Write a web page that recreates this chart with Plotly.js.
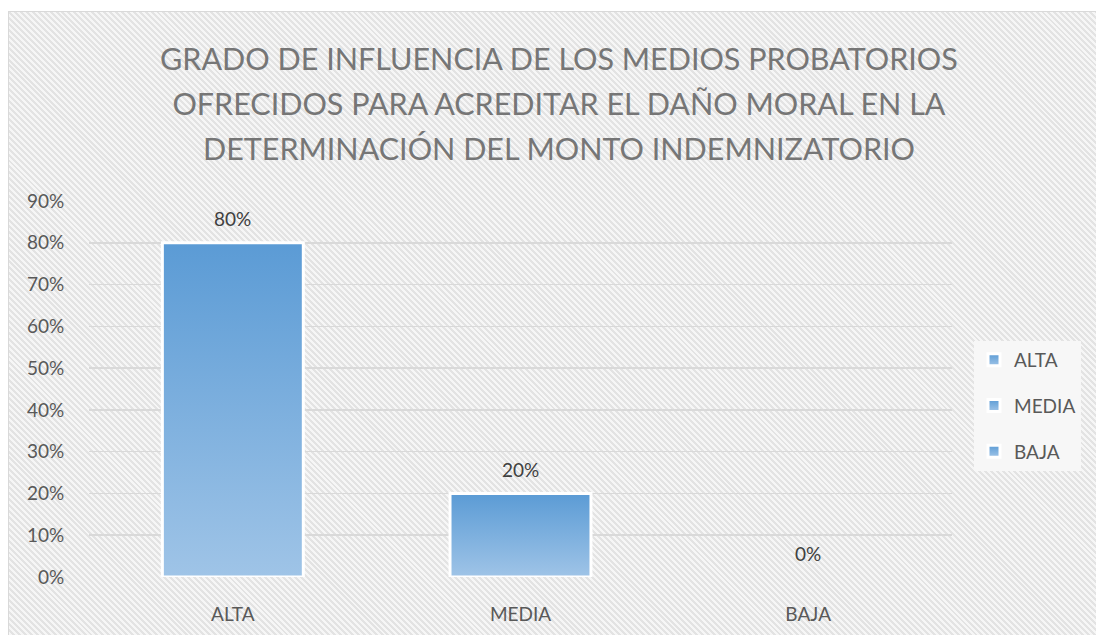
<!DOCTYPE html>
<html>
<head>
<meta charset="utf-8">
<script src="https://cdn.plot.ly/plotly-3.0.1.min.js"></script>
<style>
  html, body { margin: 0; padding: 0; background: #ffffff; width: 1096px; height: 635px; overflow: hidden; }
  #bg {
    position: absolute; left: 8px; top: 11px; width: 1100px; height: 640px;
    border: 1px solid #d9d9d9;
    background: repeating-linear-gradient(45deg, #f6f6f6 0px, #f6f6f6 2.1px, #e3e3e3 2.1px, #e3e3e3 4.2px);
  }
  #chart { position: absolute; left: 0; top: 0; width: 1096px; height: 635px; }
</style>
</head>
<body>
<div id="bg"></div>
<div id="chart"></div>
<script>
const categories = ["ALTA", "MEDIA", "BAJA"];
const values = [0.80, 0.20, 0.00];
const valueLabels = ["80%", "20%", "0%"];
const tickValues = [0, 0.1, 0.2, 0.3, 0.4, 0.5, 0.6, 0.7, 0.8, 0.9];
const tickLabels = ["0%", "10%", "20%", "30%", "40%", "50%", "60%", "70%", "80%", "90%"];
const titleText = "GRADO DE INFLUENCIA DE LOS MEDIOS PROBATORIOS<br>OFRECIDOS PARA ACREDITAR EL DAÑO MORAL EN LA<br>DETERMINACIÓN DEL MONTO INDEMNIZATORIO";

const FONT = "Lato, 'Open Sans', sans-serif";

const traces = categories.map((c, i) => ({
  type: "bar",
  name: c,
  x: [c],
  y: [values[i]],
  width: 0.49,
  legendgroup: c,
  marker: { color: "#7aaee0", line: { color: "#ffffff", width: values[i] > 0 ? 3 : 0 } },
  hoverinfo: "none"
}));

const annotations = categories.map((c, i) => ({
  x: c, y: values[i], xref: "x", yref: "y",
  text: valueLabels[i], showarrow: false,
  yanchor: "middle", yshift: 24,
  font: { family: FONT, size: 19, color: "#404040" }
}));

const layout = {
  width: 1096, height: 635,
  margin: { l: 89, r: 144, t: 201, b: 58, pad: 0 },
  paper_bgcolor: "rgba(0,0,0,0)",
  plot_bgcolor: "rgba(0,0,0,0)",
  barmode: "overlay",
  title: {
    text: titleText,
    x: 0.51, xref: "container", xanchor: "center",
    y: 0.889, yref: "container", yanchor: "top",
    font: { family: FONT, size: 30.5, color: "#767676" }
  },
  xaxis: {
    type: "category",
    showgrid: false, zeroline: false, showline: false,
    ticks: "outside", ticklen: 20, tickcolor: "rgba(0,0,0,0)",
    tickfont: { family: FONT, size: 19, color: "#595959" }
  },
  yaxis: {
    range: [0, 0.9],
    tickvals: tickValues, ticktext: tickLabels,
    showgrid: true, gridcolor: "#d9d9d9", gridwidth: 1.5,
    zeroline: false, showline: false,
    ticks: "outside", ticklen: 20, tickcolor: "rgba(0,0,0,0)",
    tickfont: { family: FONT, size: 19, color: "#595959" }
  },
  showlegend: true,
  legend: {
    x: 1.0255, xref: "paper", xanchor: "left",
    y: 0.455, yref: "paper", yanchor: "middle",
    bgcolor: "#f7f7f7",
    traceorder: "grouped", tracegroupgap: 18,
    font: { family: FONT, size: 19, color: "#595959" }
  },
  annotations: annotations
};

Plotly.newPlot("chart", traces, layout, { displayModeBar: false, staticPlot: true }).then(gd => {
  const svg = gd.querySelector("svg.main-svg");
  const ns = "http://www.w3.org/2000/svg";
  let defs = svg.querySelector("defs");
  if (!defs) { defs = document.createElementNS(ns, "defs"); svg.insertBefore(defs, svg.firstChild); }
  const grad = document.createElementNS(ns, "linearGradient");
  grad.setAttribute("id", "barGrad");
  grad.setAttribute("x1", "0"); grad.setAttribute("y1", "0");
  grad.setAttribute("x2", "0"); grad.setAttribute("y2", "1");
  [["0", "#5b9bd5"], ["1", "#9fc4e7"]].forEach(([o, c]) => {
    const s = document.createElementNS(ns, "stop");
    s.setAttribute("offset", o); s.setAttribute("stop-color", c);
    grad.appendChild(s);
  });
  defs.appendChild(grad);
  gd.querySelectorAll(".barlayer .point path").forEach(p => { p.style.fill = "url(#barGrad)"; });
  gd.querySelectorAll(".legend .legendpoints path").forEach(p => {
    p.style.fill = "url(#barGrad)";
    p.style.stroke = "#ffffff";
    p.style.strokeWidth = "3px";
  });
  // widen title line spacing to match reference (~45px)
  gd.querySelectorAll(".gtitle tspan.line").forEach((t, i) => {
    if (i > 0) t.setAttribute("dy", (i * 1.47).toFixed(2) + "em");
  });
});
</script>
</body>
</html>
